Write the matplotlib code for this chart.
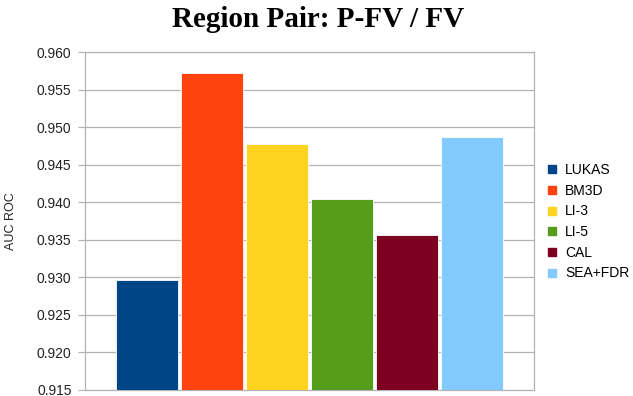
import numpy as np
import matplotlib.pyplot as plt
from matplotlib.lines import Line2D

plt.rcParams['font.family'] = ['Liberation Sans', 'DejaVu Sans']

# AUC ROC per method
methods = ['LUKAS', 'BM3D', 'LI-3', 'LI-5', 'CAL', 'SEA+FDR']
auc = [0.9297, 0.9572, 0.9478, 0.9404, 0.9356, 0.9487]
colors = ['#004586', '#ff420e', '#ffd320', '#579d1c', '#7e0021', '#83caff']

yticks = np.arange(0.915, 0.9601, 0.005)
grid_col = '#b3b3b3'

fig = plt.figure(figsize=(6.33, 3.96), dpi=100)
ax = fig.add_axes([0.135, 0.0152, 0.708, 0.853])

x = np.arange(len(methods))
ax.bar(x, auc, width=0.955, color=colors, edgecolor='white', linewidth=0.6,
       zorder=3)

ax.set_ylim(0.915, 0.960)
ax.set_xlim(-0.94, 5.95)
ax.set_yticks(yticks)
ax.set_yticklabels(['%.3f' % v for v in yticks], fontsize=10)
ax.set_xticks([])
ax.tick_params(axis='y', length=5, width=0.8, color=grid_col, pad=5,
               labelcolor='#222222')
ax.yaxis.grid(True, color=grid_col, linewidth=0.9, zorder=0)

for s in ax.spines.values():
    s.set_color(grid_col)
    s.set_linewidth(0.9)

ax.set_ylabel('AUC ROC', fontsize=9, labelpad=14, color='#222222')

fig.suptitle('Region Pair: P-FV / FV', family='Liberation Serif',
             fontweight='bold', fontsize=21, x=0.503, y=0.985)

handles = [Line2D([0], [0], marker='s', linestyle='none', markersize=6,
                  markerfacecolor=c, markeredgecolor=c) for c in colors]
fig.legend(handles, methods, loc='center left', bbox_to_anchor=(0.853, 0.44),
           frameon=False, fontsize=10, handletextpad=0.4, labelspacing=0.48,
           handlelength=1.0, borderaxespad=0)

plt.savefig('out.png', dpi=100)
